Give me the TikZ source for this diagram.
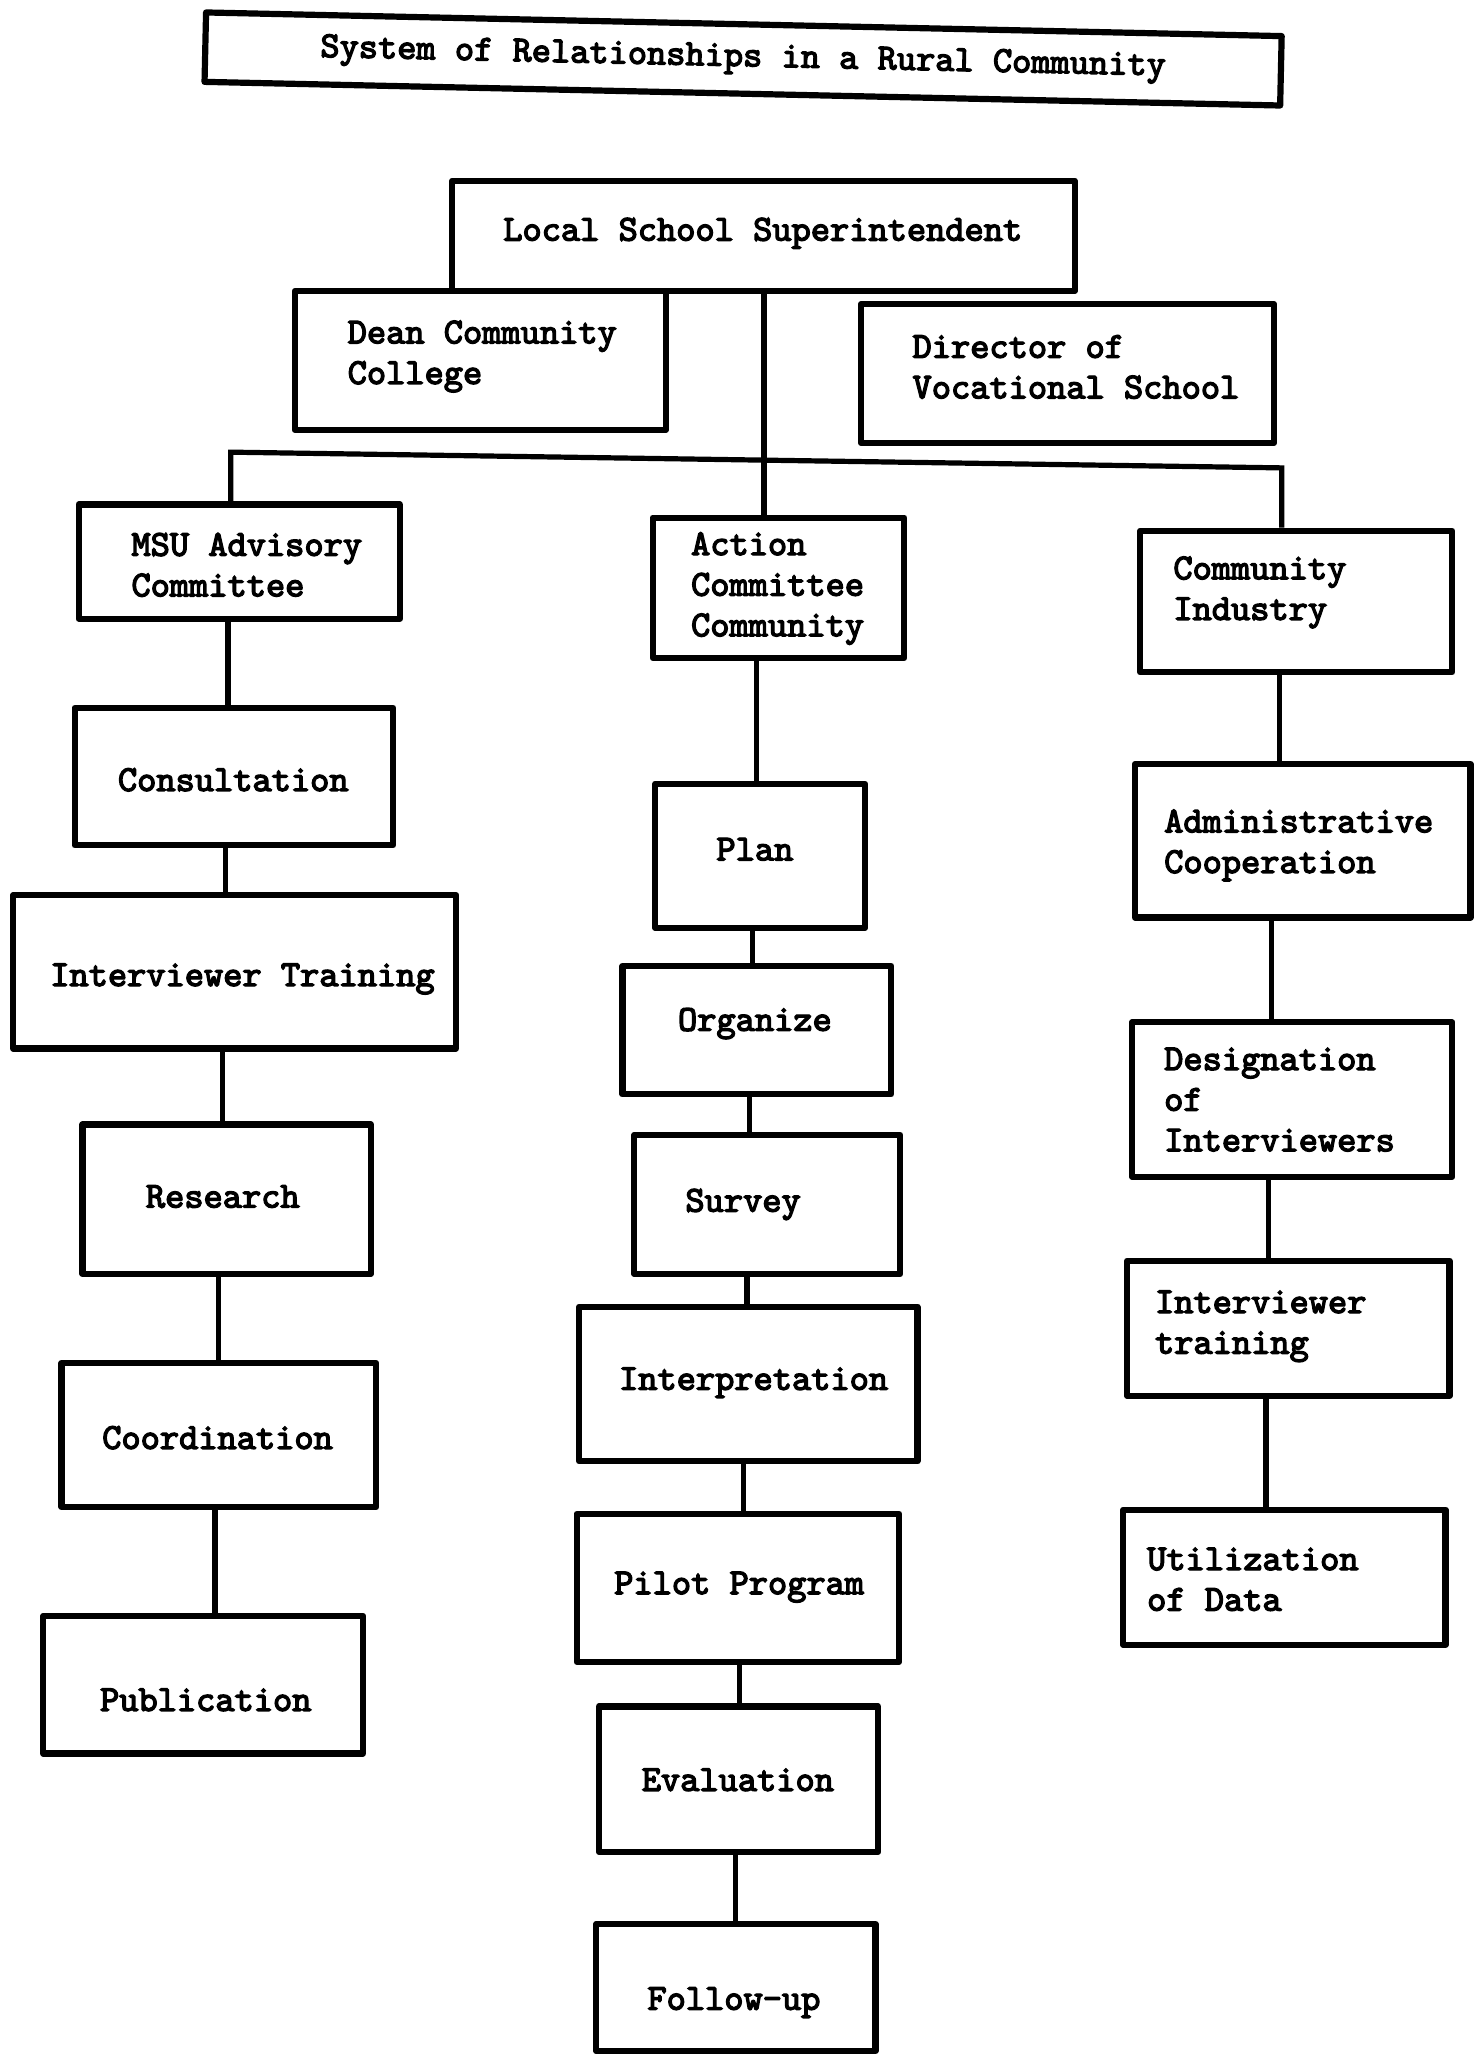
\documentclass[tikz,border=0pt]{standalone}
\usepackage{fontspec}
\usetikzlibrary{fit}
% heavy typewriter face
\newfontfamily\tw{lmmono10-regular.otf}[FakeBold=3.6]
\newcommand\twfont{\tw\fontsize{18.3}{20.3}\selectfont}
\begin{document}
\begin{tikzpicture}[x=0.6551pt,y=-0.6551pt,
  box/.style={draw=black, line width=3.1pt, inner sep=0pt, line join=round},
  lbl/.style={font=\twfont, inner sep=0pt, align=left},
  conn/.style={draw=black, line width=2.6pt}]
\useasboundingbox[fill=white] (0,0) rectangle (1128,1568);

% heading
\node[box, rotate=-1.26, minimum width=537.8pt, minimum height=34.7pt, align=center,
      font=\twfont] (title) at (567,45)
      {System of Relationships in a Rural Community};

% top level
\node[box, fit={(345,138) (820,222)}] (sup) {};
\node[lbl, anchor=center] (supT) at (582,178) {Local School Superintendent};
\node[box, fit={(225,222) (508,328)}] (dean) {};
\node[lbl, anchor=west] (deanT) at (265,272) {Dean Community\\College};
\node[box, fit={(657,232) (972,338)}] (dir) {};
\node[lbl, anchor=west] (dirT) at (696,280) {Director of\\Vocational School};

% second level
\node[box, fit={(60,385) (305,472)}] (msu) {};
\node[lbl, anchor=west] (msuT) at (100,431) {MSU Advisory\\Committee};
\node[box, fit={(498,395) (690,502)}] (act) {};
\node[lbl, anchor=west] (actT) at (527,449) {Action\\Committee\\Community};
\node[box, fit={(870,405) (1108,513)}] (ind) {};
\node[lbl, anchor=west] (indT) at (895,452) {Community\\Industry};

% left column
\node[box, fit={(57,540) (300,645)}] (cons) {};
\node[lbl, anchor=center] (consT) at (178,595) {Consultation};
\node[box, fit={(10,683) (348,800)}] (itr) {};
\node[lbl, anchor=center] (itrT) at (185,747) {Interviewer Training};
\node[box, fit={(63,858) (283,972)}] (res) {};
\node[lbl, anchor=center] (resT) at (170,913) {Research};
\node[box, fit={(47,1040) (287,1150)}] (coord) {};
\node[lbl, anchor=center] (coordT) at (166,1097) {Coordination};
\node[box, fit={(33,1233) (277,1338)}] (pub) {};
\node[lbl, anchor=center] (pubT) at (157,1297) {Publication};

% middle column
\node[box, fit={(500,598) (660,708)}] (plan) {};
\node[lbl, anchor=center] (planT) at (576,648) {Plan};
\node[box, fit={(475,737) (680,835)}] (org) {};
\node[lbl, anchor=center] (orgT) at (576,781) {Organize};
\node[box, fit={(484,866) (687,972)}] (surv) {};
\node[lbl, anchor=center] (survT) at (567,919) {Survey};
\node[box, fit={(442,997) (700,1115)}] (interp) {};
\node[lbl, anchor=center] (interpT) at (575,1055) {Interpretation};
\node[box, fit={(440,1155) (686,1268)}] (pilot) {};
\node[lbl, anchor=center] (pilotT) at (564,1211) {Pilot Program};
\node[box, fit={(457,1302) (670,1413)}] (eval) {};
\node[lbl, anchor=center] (evalT) at (563,1358) {Evaluation};
\node[box, fit={(455,1468) (668,1565)}] (follow) {};
\node[lbl, anchor=center] (followT) at (560,1528) {Follow-up};

% right column
\node[box, fit={(866,583) (1122,700)}] (admin) {};
\node[lbl, anchor=west] (adminT) at (888,645) {Administrative\\Cooperation};
\node[box, fit={(864,780) (1108,898)}] (desig) {};
\node[lbl, anchor=west] (desigT) at (888,839) {Designation\\of\\Interviewers};
\node[box, fit={(860,962) (1106,1065)}] (itr2) {};
\node[lbl, anchor=west] (itr2T) at (881,1012) {Interviewer\\training};
\node[box, fit={(857,1152) (1103,1255)}] (util) {};
\node[lbl, anchor=west] (utilT) at (875,1205) {Utilization\\of Data};

% distribution bar under the superintendent
\coordinate (busL) at (176,345);
\coordinate (busR) at (978,357);
\draw[conn] (msu.north -| busL) -- (busL) -- (busR) -- (ind.north -| busR);
\draw[conn] (sup.south -| 583,0) -- (act.north -| 583,0);

% left chain
\draw[conn] (msu.south -| 174,0) -- (cons.north -| 174,0);
\draw[conn] (cons.south -| 172,0) -- (itr.north -| 172,0);
\draw[conn] (itr.south -| 170,0) -- (res.north -| 170,0);
\draw[conn] (res.south -| 167,0) -- (coord.north -| 167,0);
\draw[conn] (coord.south -| 164,0) -- (pub.north -| 164,0);

% middle chain
\draw[conn] (act.south -| 577,0) -- (plan.north -| 577,0);
\draw[conn] (plan.south -| 574,0) -- (org.north -| 574,0);
\draw[conn] (org.south -| 572,0) -- (surv.north -| 572,0);
\draw[conn] (surv.south -| 570,0) -- (interp.north -| 570,0);
\draw[conn] (interp.south -| 567,0) -- (pilot.north -| 567,0);
\draw[conn] (pilot.south -| 564,0) -- (eval.north -| 564,0);
\draw[conn] (eval.south -| 561,0) -- (follow.north -| 561,0);

% right chain
\draw[conn] (ind.south -| 976,0) -- (admin.north -| 976,0);
\draw[conn] (admin.south -| 970,0) -- (desig.north -| 970,0);
\draw[conn] (desig.south -| 968,0) -- (itr2.north -| 968,0);
\draw[conn] (itr2.south -| 966,0) -- (util.north -| 966,0);
\end{tikzpicture}
\end{document}
